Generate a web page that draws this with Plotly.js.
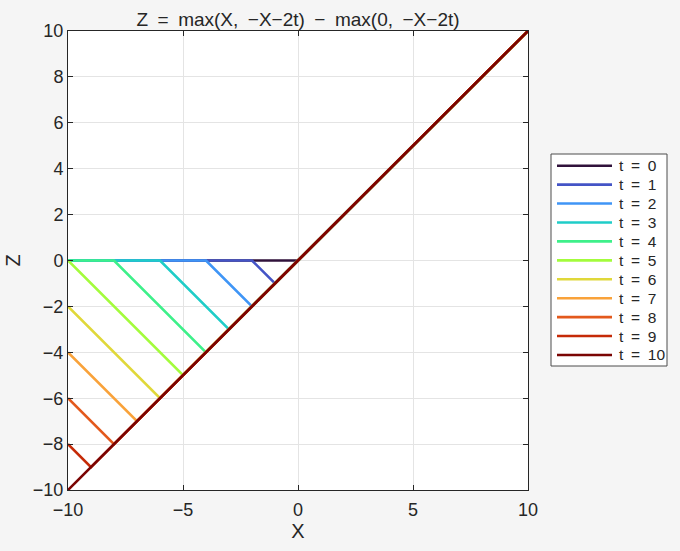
<!DOCTYPE html>
<html>
<head>
<meta charset="utf-8">
<script src="https://cdn.plot.ly/plotly-3.0.1.min.js"></script>
<style>html,body{margin:0;padding:0;background:#f5f5f5;}#chart{width:680px;height:551px;}</style>
</head>
<body>
<div id="chart"></div>
<script>
// t values and the corner points of each polyline
var tValues = [0, 1, 2, 3, 4, 5, 6, 7, 8, 9, 10];
var seriesX = [
  [-10, 0, 10],
  [-10, -2, -1, 10],
  [-10, -4, -2, 10],
  [-10, -6, -3, 10],
  [-10, -8, -4, 10],
  [-10, -5, 10],
  [-10, -6, 10],
  [-10, -7, 10],
  [-10, -8, 10],
  [-10, -9, 10],
  [-10, 10]
];
var seriesZ = [
  [0, 0, 10],
  [0, 0, -1, 10],
  [0, 0, -2, 10],
  [0, 0, -3, 10],
  [0, 0, -4, 10],
  [0, -5, 10],
  [-2, -6, 10],
  [-4, -7, 10],
  [-6, -8, 10],
  [-8, -9, 10],
  [-10, 10]
];
var colors = ['#30123b', '#4454c6', '#3f95f6', '#1fcdc8', '#3ef08a', '#a3fc3c',
              '#e0d83a', '#f9a23a', '#e3591c', '#c52a07', '#7a0403'];
var xTicks = [-10, -5, 0, 5, 10];
var yTicks = [-10, -8, -6, -4, -2, 0, 2, 4, 6, 8, 10];

var font = '"Liberation Sans", Arial, sans-serif';
var ink = '#262626';
var SP = '\u2002';

var W = 680, H = 551, mL = 68, mR = 152, mT = 31, mB = 61;
var plotW = W - mL - mR, plotH = H - mT - mB;
function px(x) { return (x - mL) / plotW; }
function py(y) { return (H - mB - y) / plotH; }

var traces = tValues.map(function (t, i) {
  return {
    x: seriesX[i], y: seriesZ[i], type: 'scatter', mode: 'lines',
    name: 't = ' + t, showlegend: false,
    line: {color: colors[i], width: 2.6}
  };
});

// legend drawn as a box with sample lines and labels
var legBox = {left: 551, right: 667, top: 154, bottom: 366};
var legFirstY = 165.7, legStep = 18.93, legLineX0 = 557, legLineX1 = 612, legTextX = 617;
var shapes = [{
  type: 'rect', xref: 'paper', yref: 'paper',
  x0: px(legBox.left), x1: px(legBox.right), y0: py(legBox.bottom), y1: py(legBox.top),
  fillcolor: '#ffffff', line: {color: '#4d4d4d', width: 1}, layer: 'above'
}];
var annotations = [];
tValues.forEach(function (t, i) {
  var yy = legFirstY + legStep * i;
  shapes.push({
    type: 'line', xref: 'paper', yref: 'paper',
    x0: px(legLineX0), x1: px(legLineX1), y0: py(yy), y1: py(yy),
    line: {color: colors[i], width: 2.6}, layer: 'above'
  });
  annotations.push({
    xref: 'paper', yref: 'paper', x: px(legTextX), y: py(yy),
    xanchor: 'left', yanchor: 'middle', showarrow: false,
    text: 't' + SP + '=' + SP + t,
    font: {family: font, size: 15.5, color: ink}
  });
});

var axisCommon = {
  showgrid: true, gridcolor: '#e4e4e4', gridwidth: 1,
  zeroline: false, showline: true, linecolor: ink, linewidth: 1,
  mirror: 'ticks', ticks: 'inside', ticklen: 5, tickcolor: ink,
  tickfont: {family: font, size: 18, color: ink}
};

var layout = {
  width: W, height: H,
  paper_bgcolor: '#f5f5f5', plot_bgcolor: '#ffffff',
  margin: {l: mL, r: mR, t: mT, b: mB},
  title: {text: 'Z' + SP + '=' + SP + 'max(X,' + SP + '\u2212X\u22122t)' + SP + '\u2212' + SP + 'max(0,' + SP + '\u2212X\u22122t)',
          font: {family: font, size: 19, color: ink},
          x: (mL + plotW / 2) / W, xanchor: 'center', xref: 'container',
          y: 1 - 19.5 / H, yanchor: 'middle', yref: 'container'},
  xaxis: Object.assign({}, axisCommon, {
    range: [-10, 10], tickvals: xTicks, ticklabelstandoff: 3,
    title: {text: 'X', font: {family: font, size: 20, color: ink}, standoff: 5}
  }),
  yaxis: Object.assign({}, axisCommon, {
    range: [-10, 10], tickvals: yTicks,
    title: {text: 'Z', font: {family: font, size: 20, color: ink}, standoff: 6}
  }),
  showlegend: false,
  shapes: shapes,
  annotations: annotations
};

Plotly.newPlot('chart', traces, layout, {displayModeBar: false, staticPlot: true});
</script>
</body>
</html>
